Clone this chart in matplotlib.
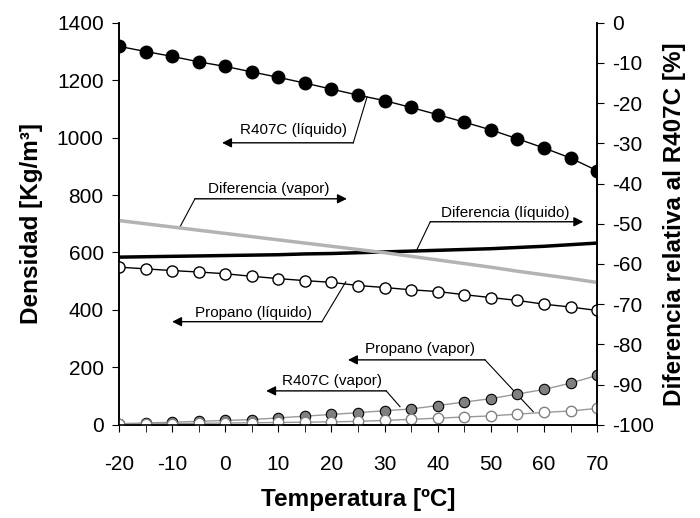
import matplotlib
matplotlib.use("Agg")
from matplotlib import pyplot as plt
from matplotlib.ticker import MultipleLocator

plt.rcParams['font.family'] = ['Liberation Sans', 'DejaVu Sans']
plt.rcParams['axes.unicode_minus'] = False

temp = [-20, -15, -10, -5, 0, 5, 10, 15, 20, 25, 30, 35, 40, 45, 50, 55, 60, 65, 70]

r407c_liq = [1318, 1300, 1283, 1264, 1248, 1229, 1210, 1190, 1169, 1148, 1129,
             1105, 1080, 1054, 1027, 996, 964, 929, 885]
propano_liq = [549, 543, 537, 532, 526, 517, 509, 502, 496, 485, 478,
               470, 464, 453, 443, 433, 420, 410, 398]
r407c_vap = [4, 6, 9, 12, 15, 18, 24, 30, 36, 42, 49,
             55, 67, 79, 91, 107, 123, 145, 172]
propano_vap = [2, 3, 4, 5, 6, 7, 8, 9, 10, 12, 15,
               19, 23, 27, 31, 37, 43, 48, 57]

dif_liq = [-58.3, -58.2, -58.1, -58.0, -57.9, -57.8, -57.7, -57.5, -57.4, -57.2,
           -57.0, -56.8, -56.6, -56.4, -56.2, -55.9, -55.6, -55.2, -54.8]
dif_vap = [-49.2, -50.0, -50.8, -51.6, -52.4, -53.2, -54.0, -54.8, -55.6, -56.4,
           -57.2, -58.1, -59.0, -59.9, -60.8, -61.8, -62.7, -63.6, -64.6]

# callouts: label, text centre, leader start (on curve), corner, arrow tip
callouts = [
    ("R407C (líquido)", (12.8, 1027), (26.7, 1142), (24.1, 982), (-0.6, 982)),
    ("Diferencia (vapor)", (8.2, 822), (-8.7, 683), (-5.7, 787), (22.9, 787)),
    ("Diferencia (líquido)", (52.7, 738), (35.9, 603), (38.6, 707), (67.4, 707)),
    ("Propano (líquido)", (5.3, 390), (22.7, 498), (18.2, 359), (-10.0, 359)),
    ("Propano (vapor)", (36.7, 265), (58.0, 45), (48.9, 226), (23.1, 226)),
    ("R407C (vapor)", (20.1, 153), (32.9, 63), (30.3, 118), (7.7, 118)),
]

fig = plt.figure(figsize=(7, 5.18), dpi=100)
ax1 = fig.add_axes([0.170, 0.180, 0.683, 0.776])
ax2 = ax1.twinx()

ax1.plot(temp, r407c_liq, color='black', lw=1, marker='o', ms=9,
         mfc='black', mec='black', zorder=3)
ax1.plot(temp, propano_liq, color='black', lw=1, marker='o', ms=8,
         mfc='white', mec='black', zorder=3)
ax1.plot(temp, r407c_vap, color='#999999', lw=1, marker='o', ms=7.5,
         mfc='#808080', mec='black', mew=0.8, zorder=3)
ax1.plot(temp, propano_vap, color='#999999', lw=1, marker='o', ms=7.5,
         mfc='white', mec='#808080', zorder=3)

ax2.plot(temp, dif_liq, color='black', lw=2.5)
ax2.plot(temp, dif_vap, color='#b3b3b3', lw=2.5)

for label, txt, start, corner, tip in callouts:
    ax1.text(txt[0], txt[1], label, ha='center', va='center', fontsize=11)
    ax1.plot([start[0], corner[0]], [start[1], corner[1]], color='black', lw=0.8)
    ax1.annotate('', xy=tip, xytext=corner,
                 arrowprops=dict(arrowstyle='-|>', color='black', lw=1,
                                 mutation_scale=14, shrinkA=0, shrinkB=0))

ax1.set_xlim(-20, 70)
ax1.set_ylim(0, 1400)
ax2.set_ylim(-100, 0)

ax1.xaxis.set_major_locator(MultipleLocator(10))
ax1.xaxis.set_minor_locator(MultipleLocator(5))
ax1.yaxis.set_major_locator(MultipleLocator(200))
ax2.yaxis.set_major_locator(MultipleLocator(10))

ax1.tick_params(axis='x', which='both', direction='out', length=5, pad=17, labelsize=15)
ax1.tick_params(axis='y', direction='out', length=5, labelsize=15, pad=6)
ax2.tick_params(axis='y', direction='out', length=5, labelsize=15, pad=6)

for ax in (ax1, ax2):
    ax.spines['top'].set_visible(False)
    for s in ax.spines.values():
        s.set_linewidth(1.2)

ax1.set_xlabel('Temperatura [ºC]', fontsize=17.5, fontweight='bold', labelpad=10)
ax1.set_ylabel('Densidad [Kg/m³]', fontsize=17.5, fontweight='bold', labelpad=10)
ax2.set_ylabel('Diferencia relativa al R407C [%]', fontsize=17.5, fontweight='bold',
               labelpad=6)

plt.savefig('out.png', format='png')
